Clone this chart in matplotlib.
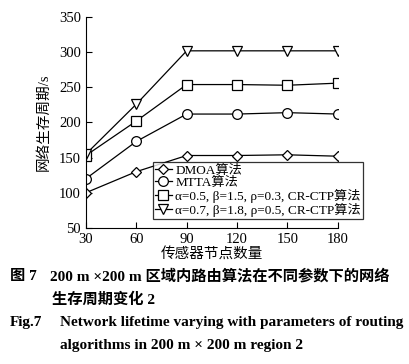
import matplotlib.pyplot as plt

plt.rcParams['font.family'] = ['Liberation Serif', 'Noto Sans CJK SC']

nodes = [30, 60, 90, 120, 150, 180]
dmoa = [100, 130, 153, 153, 154, 152]
mtta = [120, 173, 212, 212, 214, 212]
ctp1 = [153, 202, 254, 254, 253, 256]
ctp2 = [155, 226, 302, 302, 302, 302]

labels = ["DMOA算法", "MTTA算法",
          "α=0.5, β=1.5, ρ=0.3, CR-CTP算法",
          "α=0.7, β=1.8, ρ=0.5, CR-CTP算法"]
markers = ["D", "o", "s", "v"]

fig = plt.figure(figsize=(4.09, 3.64), dpi=100)
ax = fig.add_axes([0.210, 0.374, 0.616, 0.579])

for ys, m, lab in zip([dmoa, mtta, ctp1, ctp2], markers, labels):
    ms = 5.5 if m == "D" else 7
    ax.plot(nodes, ys, color="black", lw=0.9, marker=m, markersize=ms,
            markerfacecolor="white", markeredgecolor="black", markeredgewidth=0.9,
            label=lab)

ax.set_xlim(30, 180)
ax.set_ylim(50, 350)
ax.set_xticks(nodes)
ax.set_yticks(range(50, 351, 50))
ax.tick_params(direction="in", labelsize=10.5, length=4, width=0.8)
ax.spines["top"].set_visible(False)
ax.spines["right"].set_visible(False)
ax.set_xlabel("传感器节点数量", fontsize=10.5, labelpad=1)
ax.set_ylabel("网络生存周期/s", fontsize=10.5, labelpad=6)

leg = ax.legend(loc="lower right", bbox_to_anchor=(1.10, 0.043), fontsize=9.5,
                frameon=True, fancybox=False, edgecolor="black",
                borderpad=0.15, labelspacing=0.0, handlelength=1.3,
                handletextpad=0.25, borderaxespad=0)
leg.get_frame().set_linewidth(0.9)

fig.text(0.025, 0.230, "图 7", fontsize=11, fontweight="bold")
fig.text(0.122, 0.230, "200 m ×200 m 区域内路由算法在不同参数下的网络",
         fontsize=11, fontweight="bold")
fig.text(0.127, 0.165, "生存周期变化 2", fontsize=11, fontweight="bold")
fig.text(0.025, 0.105, "Fig.7", fontsize=11, fontweight="bold")
fig.text(0.147, 0.105, "Network lifetime varying with parameters of routing",
         fontsize=11, fontweight="bold")
fig.text(0.147, 0.040, "algorithms in 200 m × 200 m region 2",
         fontsize=11, fontweight="bold")

plt.savefig("out.png")
